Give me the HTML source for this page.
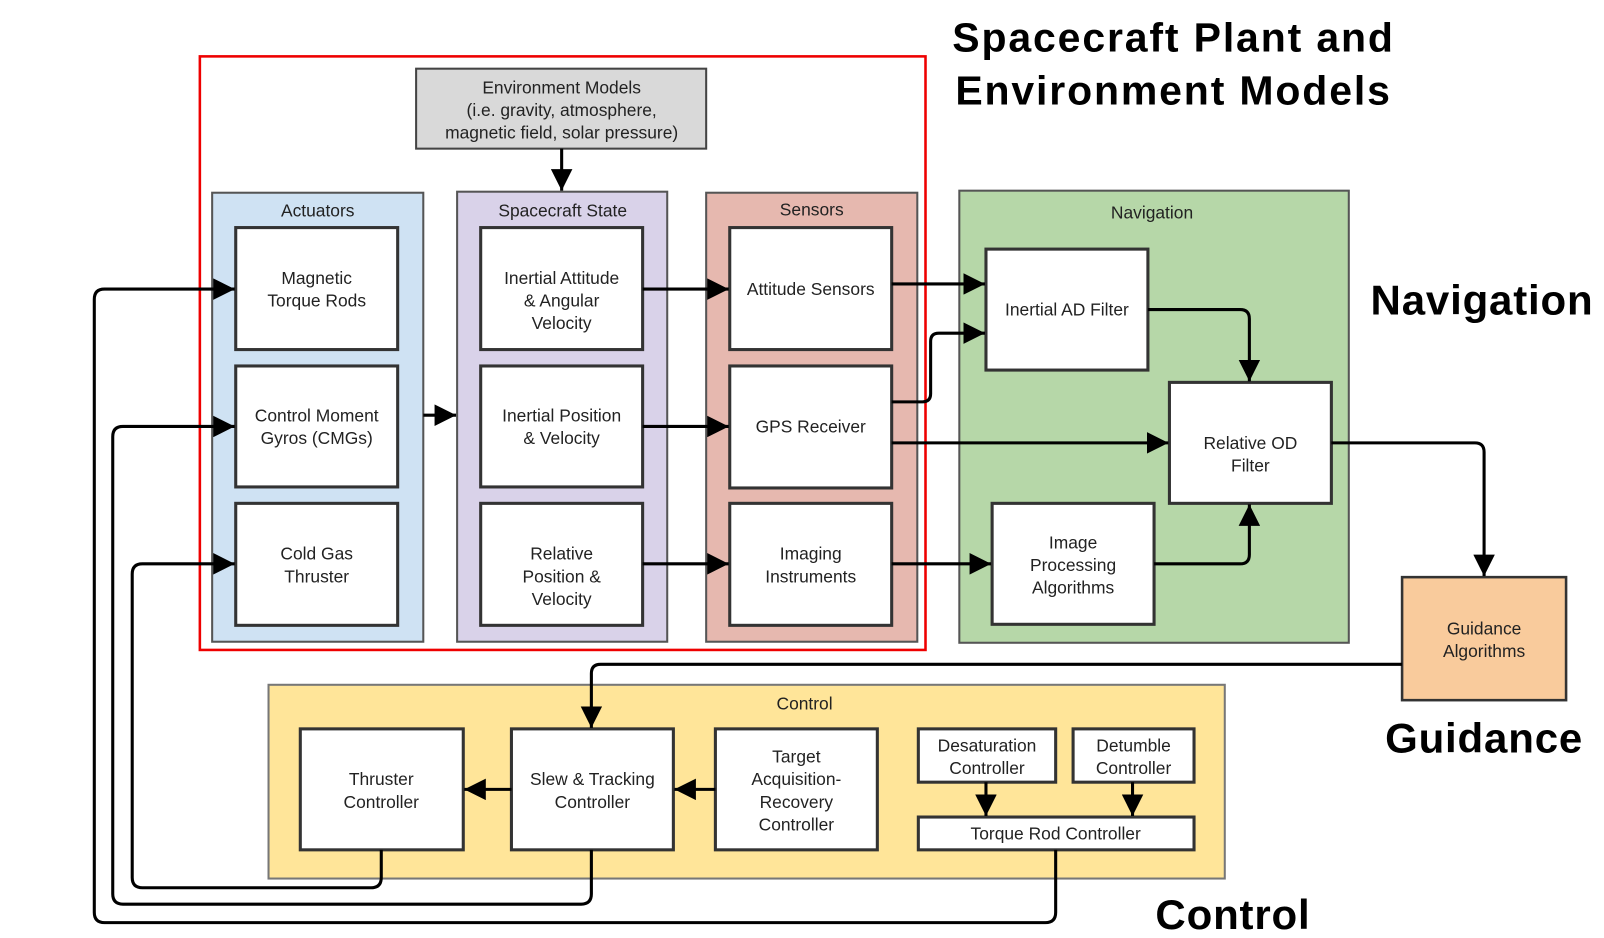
<!DOCTYPE html>
<html><head><meta charset="utf-8"><style>
html,body{margin:0;padding:0;background:#fff;}
svg{display:block;}
text{font-family:"Liberation Sans",sans-serif;fill:#222;}
.t{font-size:17px;text-anchor:middle;}
.b{font-weight:bold;fill:#000;text-anchor:middle;}
.bx{fill:#fff;stroke:#333;stroke-width:3;}
.ln{fill:none;stroke:#000;stroke-width:3;}
</style></head><body>
<svg width="1604" height="938" viewBox="0 0 1565 915" preserveAspectRatio="none" xmlns="http://www.w3.org/2000/svg">
<defs>
<marker id="a" viewBox="0 0 10 10" refX="10" refY="5" markerWidth="7" markerHeight="7" markerUnits="strokeWidth" orient="auto"><path d="M0,0 L10,5 L0,10 z" fill="#000"/></marker>
</defs>
<rect width="1565" height="915" fill="#fff"/>
<text class="b" x="1145" y="50" font-size="40" letter-spacing="1.8">Spacecraft Plant and</text>
<text class="b" x="1145" y="102" font-size="40" letter-spacing="1.8">Environment Models</text>
<text class="b" x="1446" y="307" font-size="41" letter-spacing="0.8">Navigation</text>
<text class="b" x="1448" y="734" font-size="41" letter-spacing="0.8">Guidance</text>
<text class="b" x="1203" y="906" font-size="41" letter-spacing="0.8">Control</text>

<!-- groups -->
<rect x="207" y="188" width="206" height="438" fill="#cfe2f3" stroke="#555" stroke-width="2"/>
<text class="t" x="310" y="211">Actuators</text>
<rect x="446" y="187" width="205" height="439" fill="#d9d2e9" stroke="#555" stroke-width="2"/>
<text class="t" x="549" y="211">Spacecraft State</text>
<rect x="689" y="188" width="206" height="438" fill="#e6b8af" stroke="#555" stroke-width="2"/>
<text class="t" x="792" y="210">Sensors</text>
<rect x="936" y="186" width="380" height="441" fill="#b6d7a8" stroke="#555" stroke-width="2"/>
<text class="t" x="1124" y="213">Navigation</text>
<rect x="262" y="668" width="933" height="189" fill="#ffe599" stroke="#777" stroke-width="2"/>
<text class="t" x="785" y="692">Control</text>
<rect x="195" y="55" width="708" height="579" fill="none" stroke="#e00" stroke-width="2.5"/>

<rect x="406" y="67" width="283" height="78" fill="#d9d9d9" stroke="#444" stroke-width="2"/>
<text class="t" x="548" y="91">Environment Models</text>
<text class="t" x="548" y="113">(i.e. gravity, atmosphere,</text>
<text class="t" x="548" y="135">magnetic field, solar pressure)</text>

<!-- inner boxes -->
<rect class="bx" x="230" y="222" width="158" height="119"/>
<text class="t" x="309" y="277">Magnetic</text><text class="t" x="309" y="299">Torque Rods</text>
<rect class="bx" x="230" y="357" width="158" height="118"/>
<text class="t" x="309" y="411">Control Moment</text><text class="t" x="309" y="433">Gyros (CMGs)</text>
<rect class="bx" x="230" y="491" width="158" height="119"/>
<text class="t" x="309" y="546">Cold Gas</text><text class="t" x="309" y="568">Thruster</text>

<rect class="bx" x="469" y="222" width="158" height="119"/>
<text class="t" x="548" y="277">Inertial Attitude</text><text class="t" x="548" y="299">&amp; Angular</text><text class="t" x="548" y="321">Velocity</text>
<rect class="bx" x="469" y="357" width="158" height="118"/>
<text class="t" x="548" y="411">Inertial Position</text><text class="t" x="548" y="433">&amp; Velocity</text>
<rect class="bx" x="469" y="491" width="158" height="119"/>
<text class="t" x="548" y="546">Relative</text><text class="t" x="548" y="568">Position &amp;</text><text class="t" x="548" y="590">Velocity</text>

<rect class="bx" x="712" y="222" width="158" height="119"/>
<text class="t" x="791" y="288">Attitude Sensors</text>
<rect class="bx" x="712" y="357" width="158" height="119"/>
<text class="t" x="791" y="422">GPS Receiver</text>
<rect class="bx" x="712" y="491" width="158" height="119"/>
<text class="t" x="791" y="546">Imaging</text><text class="t" x="791" y="568">Instruments</text>

<rect class="bx" x="962" y="243" width="158" height="118"/>
<text class="t" x="1041" y="308">Inertial AD Filter</text>
<rect class="bx" x="1141" y="373" width="158" height="118"/>
<text class="t" x="1220" y="438">Relative OD</text><text class="t" x="1220" y="460">Filter</text>
<rect class="bx" x="968" y="491" width="158" height="118"/>
<text class="t" x="1047" y="535">Image</text><text class="t" x="1047" y="557">Processing</text><text class="t" x="1047" y="579">Algorithms</text>

<rect x="1368" y="563" width="160" height="120" fill="#f9cb9c" stroke="#333" stroke-width="2.5"/>
<text class="t" x="1448" y="619">Guidance</text><text class="t" x="1448" y="641">Algorithms</text>

<rect class="bx" x="293" y="711" width="159" height="118"/>
<text class="t" x="372" y="766">Thruster</text><text class="t" x="372" y="788">Controller</text>
<rect class="bx" x="499" y="711" width="158" height="118"/>
<text class="t" x="578" y="766">Slew &amp; Tracking</text><text class="t" x="578" y="788">Controller</text>
<rect class="bx" x="698" y="711" width="158" height="118"/>
<text class="t" x="777" y="744">Target</text><text class="t" x="777" y="766">Acquisition-</text><text class="t" x="777" y="788">Recovery</text><text class="t" x="777" y="810">Controller</text>
<rect class="bx" x="896" y="711" width="134" height="52"/>
<text class="t" x="963" y="733">Desaturation</text><text class="t" x="963" y="755">Controller</text>
<rect class="bx" x="1047" y="711" width="118" height="52"/>
<text class="t" x="1106" y="733">Detumble</text><text class="t" x="1106" y="755">Controller</text>
<rect class="bx" x="896" y="797" width="269" height="32"/>
<text class="t" x="1030" y="819">Torque Rod Controller</text>

<!-- connectors -->
<path class="ln" marker-end="url(#a)" d="M548,145 V186"/>
<path class="ln" marker-end="url(#a)" d="M413,405 H445"/>
<path class="ln" marker-end="url(#a)" d="M627,282 H711"/>
<path class="ln" marker-end="url(#a)" d="M627,416 H711"/>
<path class="ln" marker-end="url(#a)" d="M627,550 H711"/>
<path class="ln" marker-end="url(#a)" d="M870,277 H961"/>
<path class="ln" marker-end="url(#a)" d="M870,392 H900 Q908,392 908,384 V333 Q908,325 916,325 H961"/>
<path class="ln" marker-end="url(#a)" d="M870,432 H1140"/>
<path class="ln" marker-end="url(#a)" d="M870,550 H967"/>
<path class="ln" marker-end="url(#a)" d="M1126,550 H1210 Q1219,550 1219,541 V492"/>
<path class="ln" marker-end="url(#a)" d="M1120,302 H1210 Q1219,302 1219,311 V372"/>
<path class="ln" marker-end="url(#a)" d="M1299,432 H1439 Q1448,432 1448,441 V562"/>
<path class="ln" marker-end="url(#a)" d="M1368,648 H586 Q577,648 577,657 V710"/>
<path class="ln" marker-end="url(#a)" d="M499,770 H453"/>
<path class="ln" marker-end="url(#a)" d="M698,770 H658"/>
<path class="ln" marker-end="url(#a)" d="M962,763 V796"/>
<path class="ln" marker-end="url(#a)" d="M1105,763 V796"/>
<path class="ln" marker-end="url(#a)" d="M1030,829 V890 Q1030,900 1020,900 H102 Q92,900 92,890 V292 Q92,282 102,282 H229"/>
<path class="ln" marker-end="url(#a)" d="M577,829 V872 Q577,882 567,882 H120 Q110,882 110,872 V426 Q110,416 120,416 H229"/>
<path class="ln" marker-end="url(#a)" d="M372,829 V856 Q372,866 362,866 H139 Q129,866 129,856 V560 Q129,550 139,550 H229"/>
</svg>
</body></html>
